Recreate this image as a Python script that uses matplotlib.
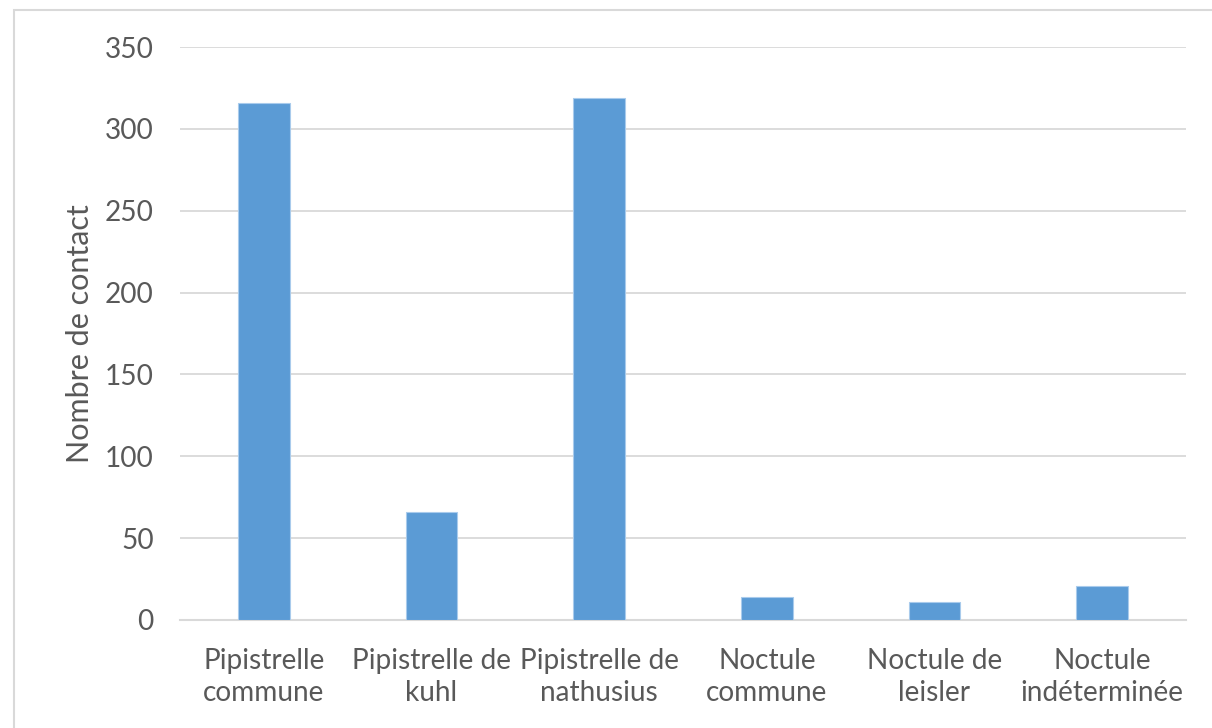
import matplotlib.pyplot as plt
from matplotlib.patches import Rectangle

plt.rcParams['font.family'] = ['Lato', 'DejaVu Sans']

# nombre de contacts par espece
especes = ["Pipistrelle\ncommune", "Pipistrelle de\nkuhl", "Pipistrelle de\nnathusius",
           "Noctule\ncommune", "Noctule de\nleisler", "Noctule\nindéterminée"]
contacts = [316, 66, 319, 14, 11, 21]
yticks = [0, 50, 100, 150, 200, 250, 300, 350]

text_color = "#595959"
grid_color = "#d9d9d9"

fig = plt.figure(figsize=(12.12, 7.28), dpi=100)
ax = fig.add_axes([180 / 1212, 1 - 620 / 728, 1006 / 1212, 573 / 728])

x = range(len(especes))
ax.bar(x, contacts, width=0.31, color="#5b9bd5", edgecolor="#a9cbec",
       linewidth=0.8, zorder=3)

ax.set_xlim(-0.5, len(especes) - 0.5)
ax.set_ylim(0, 350)
ax.set_yticks(yticks)
ax.set_xticks(list(x))
ax.set_xticklabels(especes, linespacing=1.32)
ax.tick_params(axis="both", length=0, labelsize=20.2, colors=text_color)
ax.tick_params(axis="y", pad=19)
ax.tick_params(axis="x", pad=20)

ax.grid(axis="y", color=grid_color, linewidth=1.3, zorder=0)
for side in ["top", "right", "left"]:
    ax.spines[side].set_visible(False)
ax.spines["bottom"].set_color(grid_color)
ax.spines["bottom"].set_linewidth(1.5)

ax.set_ylabel("Nombre de contact", fontsize=22, color=text_color, labelpad=8)

# cadre du graphique
fig.patches.append(Rectangle((14 / 1212, -0.1), 1.2, 1 - 10 / 728 + 0.1,
                             transform=fig.transFigure, fill=False,
                             edgecolor=grid_color, linewidth=1.5))

fig.savefig("out.png", dpi=100)
